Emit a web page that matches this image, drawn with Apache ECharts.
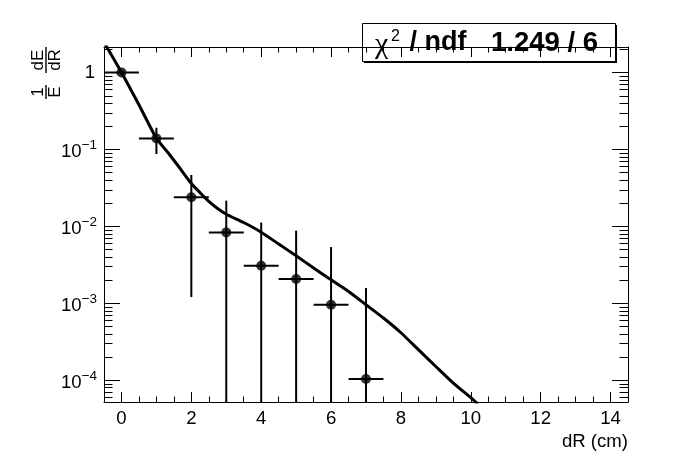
<!DOCTYPE html>
<html>
<head>
<meta charset="utf-8">
<script src="https://cdn.jsdelivr.net/npm/echarts@6/dist/echarts.min.js"></script>
<style>
html,body{margin:0;padding:0;background:#fff;}
#c{width:698px;height:474px;}
</style>
</head>
<body>
<div id="c"></div>
<script>
// ---- data ----
const pointX    = [0, 1, 2, 3, 4, 5, 6, 7];
const pointY    = [1.0, 0.1387, 0.0238, 0.00831, 0.00306, 0.00206, 0.000953, 0.000103];
const pointXErr = [0.5, 0.5, 0.5, 0.5, 0.5, 0.5, 0.5, 0.5];
const pointYErr = [0.08, 0.052, 0.0226, 0.0132, 0.0081, 0.0067, 0.0044, 0.00147];

const fitX = [-0.5, 0, 0.5, 1.0, 1.34, 1.67, 2.0, 2.25, 2.5, 2.75, 3.0, 3.5, 4.0, 4.5, 5.0, 5.5, 6.0, 6.5, 7.0, 7.5, 8.0, 8.5, 9.0, 9.5, 10.0, 10.2];
const fitY = [2.47, 1.0, 0.38, 0.139, 0.0895, 0.0571, 0.0359, 0.0273, 0.0210, 0.0170, 0.01432, 0.01117, 0.00836, 0.00587, 0.00413, 0.00286, 0.00201, 0.00142, 0.000953, 0.00064, 0.000412, 0.000248, 0.000150, 0.0000914, 0.0000589, 0.000049];

const xTickLabels = ['0', '2', '4', '6', '8', '10', '12', '14'];
const xTitle = 'dR (cm)';
const statName = ' / ndf';
const statValue = '1.249 / 6';

// ---- axis ranges ----
const X_MIN = -0.5, X_MAX = 14.5;
const Y_MIN = 5.18e-5, Y_MAX = 2.14;
const F = '"Liberation Sans", Arial, Helvetica, sans-serif';

const minorTicks = [];
for (let e = -5; e <= 0; e++) {
  for (let m = 2; m <= 9; m++) {
    const v = m * Math.pow(10, e);
    if (v > Y_MIN && v < Y_MAX) minorTicks.push([X_MIN, v]);
  }
}
const majorTicks = [];
for (let e = Math.ceil(Math.log10(Y_MIN)); e <= Math.floor(Math.log10(Y_MAX)); e++) {
  majorTicks.push([X_MIN, Math.pow(10, e)]);
}

const points = pointX.map((x, i) => [x, pointY[i]]);
const errRows = pointX.map((x, i) => [x, pointY[i], pointXErr[i], pointYErr[i]]);
const fitData = fitX.map((x, i) => [x, fitY[i]]);

const chart = echarts.init(document.getElementById('c'), null, {renderer: 'canvas'});

const blackLine = {show: true, onZero: false, lineStyle: {color: '#000', width: 1}};

function xAxisMajor(pos, showLabel) {
  return {
    type: 'value', position: pos, min: X_MIN, max: X_MAX, splitNumber: 7,
    axisLine: blackLine,
    axisTick: {show: true, inside: true, length: 10, lineStyle: {color: '#000', width: 1}},
    axisLabel: {
      show: showLabel, margin: 7, color: '#000', fontSize: 18.6, fontFamily: F,
      showMinLabel: false, showMaxLabel: false,
      formatter: function (v) {
        const s = String(Math.round(v));
        return (Math.abs(v - Math.round(v)) < 1e-9 && xTickLabels.indexOf(s) >= 0) ? s : '';
      }
    },
    splitLine: {show: false}, minorTick: {show: false}
  };
}
function xAxisMinor(pos) {
  return {
    type: 'value', position: pos, min: X_MIN, max: X_MAX, interval: 0.5,
    axisLine: {show: false, onZero: false},
    axisTick: {show: true, inside: true, length: 5.5, lineStyle: {color: '#000', width: 1}},
    axisLabel: {show: false},
    splitLine: {show: false}
  };
}
function yAxisDef(pos) {
  return {
    type: 'log', logBase: 10, position: pos, min: Y_MIN, max: Y_MAX,
    axisLine: blackLine,
    axisTick: {show: true, inside: true, length: 16, lineStyle: {color: '#000', width: 1}},
    axisLabel: {show: false},
    splitLine: {show: false}, minorTick: {show: false}
  };
}

const option = {
  animation: false,
  backgroundColor: '#fff',
  grid: {left: 104, right: 70, top: 47, bottom: 72, containLabel: false},
  xAxis: [xAxisMajor('bottom', true), xAxisMajor('top', false), xAxisMinor('bottom'), xAxisMinor('top')],
  yAxis: [yAxisDef('left'), yAxisDef('right')],
  series: [
    {
      type: 'custom', name: 'minorY', xAxisIndex: 0, yAxisIndex: 0, data: minorTicks, silent: true,
      encode: {x: 0, y: 1},
      renderItem: function (params, api) {
        const v = api.value(1);
        const pl = api.coord([X_MIN, v]);
        const pr = api.coord([X_MAX, v]);
        const y = Math.round(pl[1]) + 0.5;
        return {
          type: 'group',
          children: [
            {type: 'line', shape: {x1: pl[0], y1: y, x2: pl[0] + 8.5, y2: y}, style: {stroke: '#000', lineWidth: 1}},
            {type: 'line', shape: {x1: pr[0] - 8.5, y1: y, x2: pr[0], y2: y}, style: {stroke: '#000', lineWidth: 1}}
          ]
        };
      }
    },
    {
      type: 'custom', name: 'yLabels', xAxisIndex: 0, yAxisIndex: 0, data: majorTicks, silent: true,
      encode: {x: 0, y: 1},
      renderItem: function (params, api) {
        const v = api.value(1);
        const p = api.coord([X_MIN, v]);
        const k = Math.round(Math.log10(v));
        if (k === 0) {
          return {type: 'text', style: {text: '1', x: p[0] - 9, y: p[1] + 0.6, align: 'right', verticalAlign: 'middle', font: '18.6px ' + F, fill: '#000'}};
        }
        return {
          type: 'group',
          children: [
            {type: 'text', style: {text: '10', x: p[0] - 22.3, y: p[1] + 3, align: 'right', verticalAlign: 'middle', font: '18.6px ' + F, fill: '#000'}},
            {type: 'text', style: {text: '\u2212' + (-k), x: p[0] - 22.3, y: p[1] - 4, align: 'left', verticalAlign: 'middle', font: '13.5px ' + F, fill: '#000'}}
          ]
        };
      }
    },
    {
      type: 'custom', name: 'errors', xAxisIndex: 0, yAxisIndex: 0, data: errRows, silent: true,
      encode: {x: 0, y: 1},
      renderItem: function (params, api) {
        const x = api.value(0), y = api.value(1), xe = api.value(2), ye = api.value(3);
        const l = api.coord([x - xe, y]);
        const r = api.coord([x + xe, y]);
        const t = api.coord([x, Math.min(y + ye, Y_MAX)]);
        const b = api.coord([x, Math.max(y - ye, Y_MIN)]);
        return {
          type: 'group',
          children: [
            {type: 'line', shape: {x1: l[0], y1: l[1], x2: r[0], y2: r[1]}, style: {stroke: '#000', lineWidth: 2}},
            {type: 'line', shape: {x1: t[0], y1: t[1], x2: b[0], y2: b[1]}, style: {stroke: '#000', lineWidth: 2}}
          ]
        };
      }
    },
    {
      type: 'scatter', name: 'points', xAxisIndex: 0, yAxisIndex: 0, data: points,
      symbol: 'circle', symbolSize: 10, itemStyle: {color: '#000'}, silent: true
    },
    {
      type: 'line', name: 'fit', xAxisIndex: 0, yAxisIndex: 0, data: fitData,
      showSymbol: false, symbol: 'none', smooth: 0.2, clip: true,
      lineStyle: {color: '#000', width: 3}, silent: true, z: 3
    }
  ],
  graphic: [
    {
      type: 'group', x: 46, y: 75, rotation: Math.PI / 2,
      children: [
        {type: 'text', style: {text: '1', x: -17, y: -8, align: 'center', verticalAlign: 'middle', font: '17px ' + F, fill: '#000'}},
        {type: 'line', shape: {x1: -24, y1: 0, x2: -10, y2: 0}, style: {stroke: '#000', lineWidth: 1.4}},
        {type: 'text', style: {text: 'E', x: -17, y: 9, align: 'center', verticalAlign: 'middle', font: '17px ' + F, fill: '#000'}},
        {type: 'text', style: {text: 'dE', x: 15, y: -8, align: 'center', verticalAlign: 'middle', font: '17px ' + F, fill: '#000'}},
        {type: 'line', shape: {x1: 2, y1: 0, x2: 28, y2: 0}, style: {stroke: '#000', lineWidth: 1.4}},
        {type: 'text', style: {text: 'dR', x: 15, y: 9, align: 'center', verticalAlign: 'middle', font: '17px ' + F, fill: '#000'}}
      ]
    },
    {
      type: 'text', right: 70, top: 432,
      style: {text: xTitle, font: '18.6px ' + F, fill: '#000', align: 'right'}
    },
    {
      type: 'group', x: 0, y: 0,
      children: [
        {type: 'rect', shape: {x: 364, y: 25, width: 253, height: 38}, style: {fill: '#000'}},
        {type: 'rect', shape: {x: 362.5, y: 23.5, width: 253, height: 38}, style: {fill: '#fff', stroke: '#000', lineWidth: 1}},
        {type: 'text', style: {text: '\u03c7', x: 375, y: 45, verticalAlign: 'middle', font: '30px "Liberation Serif", serif', fill: '#000'}},
        {type: 'text', style: {text: '2', x: 391, y: 37, verticalAlign: 'middle', font: '16px ' + F, fill: '#000'}},
        {type: 'text', style: {text: statName, x: 402, y: 43, verticalAlign: 'middle', font: 'bold 27px ' + F, fill: '#000'}},
        {type: 'text', style: {text: statValue, x: 598, y: 43, align: 'right', verticalAlign: 'middle', font: 'bold 27.5px ' + F, fill: '#000'}}
      ]
    }
  ]
};
chart.setOption(option);
</script>
</body>
</html>
